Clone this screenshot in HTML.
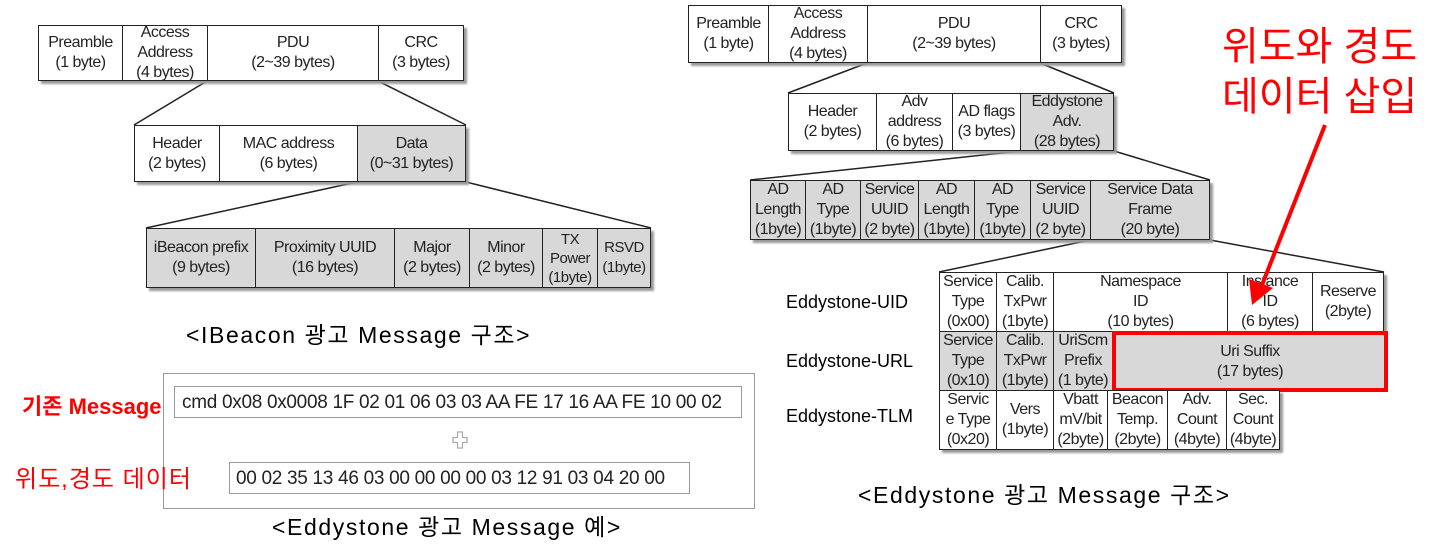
<!DOCTYPE html>
<html><head><meta charset="utf-8"><style>
body{margin:0;width:1442px;height:552px;background:#fff;position:relative;overflow:hidden;font-family:"Liberation Sans","Noto Sans CJK KR",sans-serif}
.c{position:absolute;box-sizing:border-box;border:1.5px solid #222;display:flex;align-items:center;justify-content:center;text-align:center;font-size:16px;line-height:20px;color:#222;background:#fff;white-space:nowrap;overflow:hidden;letter-spacing:-0.5px}
.g{background:#d8d8d8}
.row{position:absolute;box-shadow:3px 3px 2px #999}
.t{position:absolute;white-space:nowrap}
</style></head><body>
<svg width="1442" height="552" style="position:absolute;left:0;top:0">
<g stroke="#222" stroke-width="1.5" fill="none">
<line x1="207" y1="81" x2="134" y2="125"/><line x1="378" y1="81" x2="466" y2="125"/>
<line x1="357" y1="182" x2="146" y2="228"/><line x1="466" y1="182" x2="651" y2="228"/>
<line x1="867" y1="63" x2="788" y2="93"/><line x1="1040" y1="63" x2="1114" y2="93"/>
<line x1="1020" y1="151" x2="750" y2="180"/><line x1="1114" y1="151" x2="1210" y2="180"/>
<line x1="1090" y1="240" x2="939" y2="272"/><line x1="1210" y1="240" x2="1384" y2="272"/>
</g>
</svg>

<!-- left top -->
<div class="row" style="left:38px;top:25px;width:426px;height:56px"></div>
<div class="c" style="left:38px;top:25px;width:85px;height:56px">Preamble<br>(1 byte)</div>
<div class="c" style="left:122px;top:25px;width:86px;height:56px">Access<br>Address<br>(4 bytes)</div>
<div class="c" style="left:207px;top:25px;width:172px;height:56px">PDU<br>(2~39 bytes)</div>
<div class="c" style="left:378px;top:25px;width:86px;height:56px">CRC<br>(3 bytes)</div>

<div class="row" style="left:134px;top:125px;width:332px;height:57px"></div>
<div class="c" style="left:134px;top:125px;width:86px;height:57px">Header<br>(2 bytes)</div>
<div class="c" style="left:219px;top:125px;width:139px;height:57px">MAC address<br>(6 bytes)</div>
<div class="c g" style="left:357px;top:125px;width:109px;height:57px">Data<br>(0~31 bytes)</div>

<div class="row" style="left:146px;top:228px;width:505px;height:60px"></div>
<div class="c g" style="left:146px;top:228px;width:110px;height:60px">iBeacon prefix<br>(9 bytes)</div>
<div class="c g" style="left:255px;top:228px;width:140px;height:60px">Proximity UUID<br>(16 bytes)</div>
<div class="c g" style="left:394px;top:228px;width:76px;height:60px">Major<br>(2 bytes)</div>
<div class="c g" style="left:469px;top:228px;width:74px;height:60px">Minor<br>(2 bytes)</div>
<div class="c g" style="left:542px;top:228px;width:56px;height:60px;font-size:15px;line-height:19px">TX<br>Power<br>(1byte)</div>
<div class="c g" style="left:597px;top:228px;width:54px;height:60px;font-size:15px">RSVD<br>(1byte)</div>

<div class="t" style="left:186px;top:316px;font-size:23px;letter-spacing:1.6px">&lt;IBeacon 광고 Message 구조&gt;</div>

<!-- message box -->
<div style="position:absolute;left:163px;top:373px;width:590px;height:134px;border:1px solid #999"></div>
<div style="position:absolute;left:174px;top:386px;width:568px;height:32px;border:1px solid #999;font-size:19px;line-height:32px;padding-left:7px;box-sizing:border-box;color:#222;letter-spacing:-0.3px">cmd 0x08 0x0008 1F 02 01 06 03 03 AA FE 17 16 AA FE 10 00 02</div>
<div class="t" style="left:452px;top:431px;width:16px;height:18px">
<svg width="16" height="18"><path d="M5.5 1h5v5.5h4.5v5h-4.5v5.5h-5v-5.5h-4.5v-5h4.5z" fill="none" stroke="#aaa" stroke-width="1.2"/></svg></div>
<div style="position:absolute;left:229px;top:462px;width:461px;height:32px;border:1px solid #999;font-size:19px;line-height:32px;padding-left:6px;box-sizing:border-box;color:#222;letter-spacing:-0.3px">00 02 35 13 46 03 00 00 00 00 03 12 91 03 04 20 00</div>
<div class="t" style="left:22px;top:389px;font-size:22px;color:#f00;font-weight:bold">기존 Message</div>
<div class="t" style="left:15px;top:459px;font-size:24px;color:#f00;letter-spacing:1px">위도,경도 데이터</div>
<div class="t" style="left:272px;top:508px;font-size:23px;letter-spacing:1.6px">&lt;Eddystone 광고 Message 예&gt;</div>

<!-- right top -->
<div class="row" style="left:688px;top:5px;width:434px;height:58px"></div>
<div class="c" style="left:688px;top:5px;width:81px;height:58px">Preamble<br>(1 byte)</div>
<div class="c" style="left:768px;top:5px;width:100px;height:58px">Access<br>Address<br>(4 bytes)</div>
<div class="c" style="left:867px;top:5px;width:174px;height:58px">PDU<br>(2~39 bytes)</div>
<div class="c" style="left:1040px;top:5px;width:82px;height:58px">CRC<br>(3 bytes)</div>

<div class="row" style="left:788px;top:93px;width:326px;height:58px"></div>
<div class="c" style="left:788px;top:93px;width:89px;height:58px">Header<br>(2 bytes)</div>
<div class="c" style="left:876px;top:93px;width:77px;height:58px">Adv<br>address<br>(6 bytes)</div>
<div class="c" style="left:952px;top:93px;width:69px;height:58px">AD flags<br>(3 bytes)</div>
<div class="c g" style="left:1020px;top:93px;width:94px;height:58px">Eddystone<br>Adv.<br>(28 bytes)</div>

<div class="row" style="left:750px;top:180px;width:460px;height:60px"></div>
<div class="c g" style="left:750px;top:180px;width:56px;height:60px">AD<br>Length<br>(1byte)</div>
<div class="c g" style="left:805px;top:180px;width:56px;height:60px">AD<br>Type<br>(1byte)</div>
<div class="c g" style="left:860px;top:180px;width:59px;height:60px">Service<br>UUID<br>(2 byte)</div>
<div class="c g" style="left:918px;top:180px;width:57px;height:60px">AD<br>Length<br>(1byte)</div>
<div class="c g" style="left:974px;top:180px;width:57px;height:60px">AD<br>Type<br>(1byte)</div>
<div class="c g" style="left:1030px;top:180px;width:61px;height:60px">Service<br>UUID<br>(2 byte)</div>
<div class="c g" style="left:1090px;top:180px;width:120px;height:60px">Service Data<br>Frame<br>(20 byte)</div>

<div class="t" style="left:786px;top:292px;font-size:18px">Eddystone-UID</div>
<div class="t" style="left:786px;top:351px;font-size:18px">Eddystone-URL</div>
<div class="t" style="left:786px;top:406px;font-size:18px">Eddystone-TLM</div>

<div class="row" style="left:939px;top:272px;width:445px;height:60px"></div>
<div class="c" style="left:939px;top:272px;width:58px;height:60px">Service<br>Type<br>(0x00)</div>
<div class="c" style="left:996px;top:272px;width:58px;height:60px">Calib.<br>TxPwr<br>(1byte)</div>
<div class="c" style="left:1053px;top:272px;width:175px;height:60px">Namespace<br>ID<br>(10 bytes)</div>
<div class="c" style="left:1227px;top:272px;width:86px;height:60px">Instance<br>ID<br>(6 bytes)</div>
<div class="c" style="left:1312px;top:272px;width:72px;height:60px">Reserve<br>(2byte)</div>

<div class="c g" style="left:939px;top:331px;width:58px;height:60px">Service<br>Type<br>(0x10)</div>
<div class="c g" style="left:996px;top:331px;width:58px;height:60px">Calib.<br>TxPwr<br>(1byte)</div>
<div class="c g" style="left:1053px;top:331px;width:60px;height:60px">UriScm<br>Prefix<br>(1 byte)</div>
<div class="c g" style="left:1112px;top:331px;width:276px;height:61px;border:4px solid #f00">Uri Suffix<br>(17 bytes)</div>

<div class="row" style="left:939px;top:390px;width:341px;height:60px"></div>
<div class="c" style="left:939px;top:390px;width:58px;height:60px">Servic<br>e Type<br>(0x20)</div>
<div class="c" style="left:996px;top:390px;width:58px;height:60px">Vers<br>(1byte)</div>
<div class="c" style="left:1053px;top:390px;width:55px;height:60px">Vbatt<br>mV/bit<br>(2byte)</div>
<div class="c" style="left:1107px;top:390px;width:61px;height:60px">Beacon<br>Temp.<br>(2byte)</div>
<div class="c" style="left:1167px;top:390px;width:60px;height:60px">Adv.<br>Count<br>(4byte)</div>
<div class="c" style="left:1226px;top:390px;width:54px;height:60px">Sec.<br>Count<br>(4byte)</div>

<svg width="1442" height="552" style="position:absolute;left:0;top:0;pointer-events:none">
<line x1="1325" y1="125" x2="1262" y2="285" stroke="#f00" stroke-width="4"/>
<polygon points="1252,305 1249,279 1273,288" fill="#f00"/>
</svg>

<div class="t" style="left:1222px;top:22px;font-size:40px;color:#f00;line-height:50px">위도와 경도<br>데이터 삽입</div>
<div class="t" style="left:858px;top:476px;font-size:23px;letter-spacing:1.6px">&lt;Eddystone 광고 Message 구조&gt;</div>
</body></html>
